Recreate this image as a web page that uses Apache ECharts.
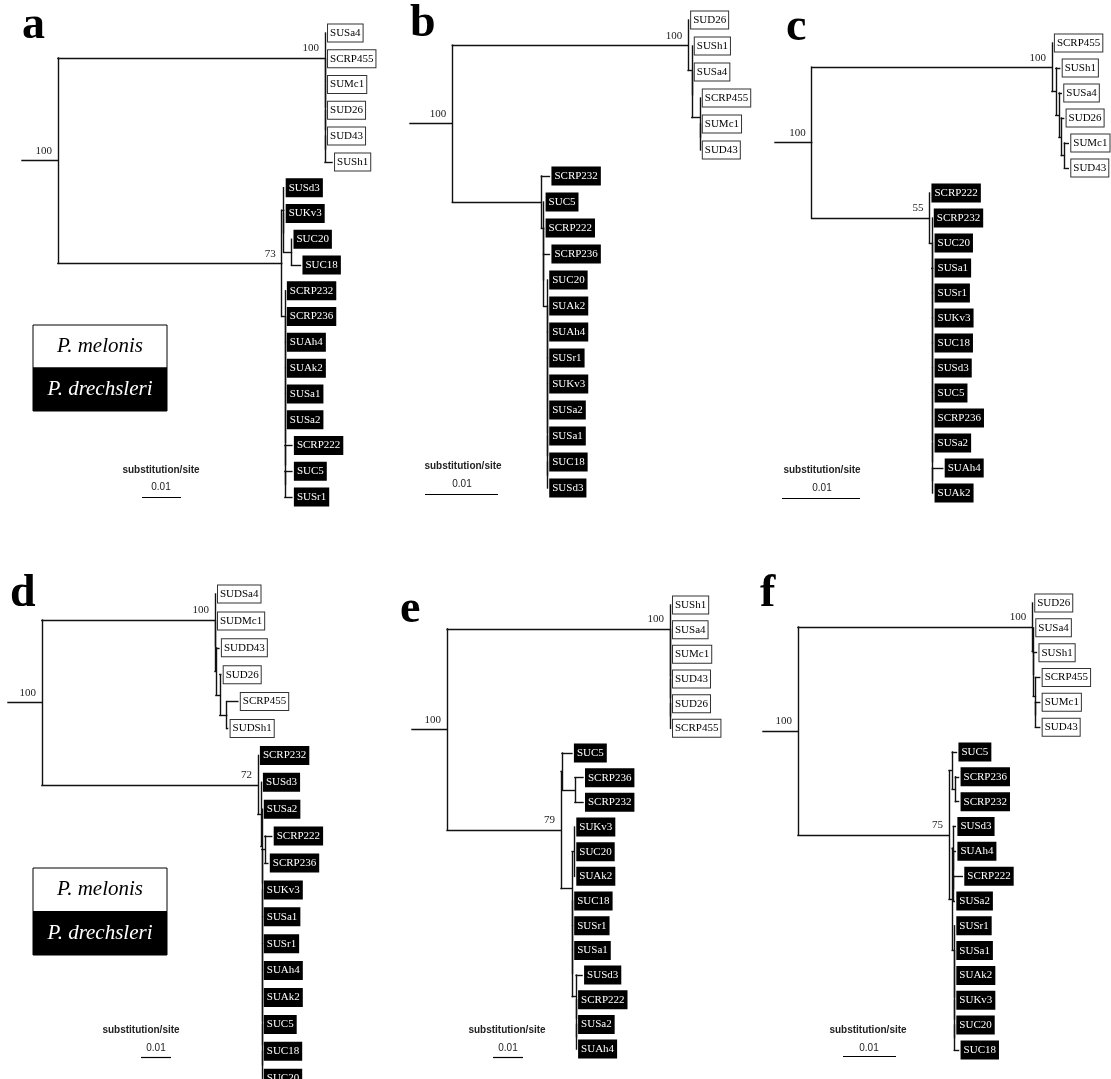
<!DOCTYPE html>
<html><head><meta charset="utf-8">
<script src="https://cdn.jsdelivr.net/npm/echarts@6/dist/echarts.min.js"></script>
<style>html,body{margin:0;padding:0;background:#fff}#c{width:1111px;height:1079px}</style>
</head><body><div id="c"></div>
<script>
// ---------- DATA (branch lengths in substitutions/site, Newick) ----------
const melonisA = "(SUSa4:0,(SCRP455:0,(SUMc1:0,(SUD26:0,(SUD43:0,SUSh1:0.0018):0):0):0):0)100:0.0685";
const drechsleriA = "((SUSd3:0,(SUKv3:0,(SUC20:0,SUC18:0.0023):0.002):0):0.0005,(SCRP232:0,(SCRP236:0,(SUAh4:0,(SUAk2:0,(SUSa1:0,(SUSa2:0,(SCRP222:0.0018,(SUC5:0.0018,SUSr1:0.0018):0):0):0):0):0):0):0):0.0008)73:0.0574";
const rootA = ["100", 0.0092];

const melonisB = "(SUD26:0,(SUSh1:0,(SUSa4:0,(SCRP455:0,(SUMc1:0,SUD43:0):0):0.0011):0):0.0005)100:0.0323";
const drechsleriB = "(SCRP232:0.0011,(SUC5:0,(SCRP222:0,(SCRP236:0.0008,(SUC20:0,(SUAk2:0,(SUAh4:0,(SUSr1:0,(SUKv3:0,(SUSa2:0,(SUSa1:0,(SUC18:0,SUSd3:0):0):0):0):0):0):0):0):0.0005):0):0):0.0003):0.0122";
const rootB = ["100", 0.0058];

const melonisC = "(SCRP455:0,(SUSh1:0.0005,(SUSa4:0.0003,(SUD26:0.0003,(SUMc1:0.0005,SUD43:0.0005):0.0004):0.0003):0.0004):0.0005)100:0.0308";
const drechsleriC = "(SCRP222:0,(SCRP232:0,(SUC20:0,(SUSa1:0,(SUSr1:0,(SUKv3:0,(SUC18:0,(SUSd3:0,(SUC5:0,(SCRP236:0,(SUSa2:0,(SUAh4:0.0013,SUAk2:0):0):0):0):0):0):0):0):0):0):0.0001):0.0003)55:0.0151";
const rootC = ["100", 0.0047];

const melonisD = "(SUDSa4:0,(SUDMc1:0,(SUDD43:0.001,(SUD26:0.0003,(SCRP455:0.0037,SUDSh1:0.0003):0.0023):0.0013):0.0003):0)100:0.0577";
const drechsleriD = "(SCRP232:0,(SUSd3:0,(SUSa2:0,((SCRP222:0.0023,SCRP236:0.001):0.001,(SUKv3:0,(SUSa1:0,(SUSr1:0,(SUAh4:0,(SUAk2:0,(SUC5:0,(SUC18:0,SUC20:0):0):0):0):0):0):0):0):0):0.0003):0.001)72:0.072";
const rootD = ["100", 0.0113];

const melonisE = "(SUSh1:0,(SUSa4:0,(SUMc1:0,(SUD43:0,(SUD26:0,SCRP455:0):0):0):0):0)100:0.0743";
const drechsleriE = "((SUC5:0.0033,(SCRP236:0.0027,SCRP232:0.0027):0.0043):0.0003,((SUKv3:0,SUC20:0,SUAk2:0):0.0007,(SUC18:0,(SUSr1:0,(SUSa1:0,(SUSd3:0.002,(SCRP222:0,(SUSa2:0,SUAh4:0):0):0):0.0013):0):0):0):0.0037)79:0.038";
const rootE = ["100", 0.0117];

const melonisF = "(SUD26:0,(SUSa4:0,(SUSh1:0.0006,(SCRP455:0.0008,(SUMc1:0.0008,SUD43:0.0008):0):0.0004):0):0.0002)100:0.0442";
const drechsleriF = "((SUC5:0.0008,(SCRP236:0.0006,SCRP232:0.0006):0.0006):0.0006,((SUSd3:0.0004,(SUAh4:0.0004,(SCRP222:0.0017,SUSa2:0.0002):0):0):0.0002,(SUSr1:0,(SUSa1:0,(SUAk2:0,(SUKv3:0,(SUC20:0,SUC18:0.0008):0):0):0):0):0.0004):0.0006)75:0.0285";
const rootF = ["100", 0.0066];

const melonisNames = ["SUSa4", "SCRP455", "SUMc1", "SUD26", "SUD43", "SUSh1", "SUDSa4", "SUDMc1", "SUDD43", "SUDSh1"];
const panelLetters = ["a", "b", "c", "d", "e", "f"];
const legendLabels = ["P. melonis", "P. drechsleri"];
const scaleBarLength = 0.01;
const scaleBarLabel = "0.01";
const scaleUnitLabel = "substitution/site";

// ---------- LAYOUT (pixels) ----------
const layouts = [
  {rootX: 22,  top: 33,  step: 25.78, px001: 39, barX: 142, barY: 497, subX: 161, subY: 470, numX: 161, numY: 487, letX: 22,  letY: 26},
  {rootX: 410, top: 20,  step: 26.0,  px001: 73, barX: 425, barY: 494, subX: 463, subY: 466, numX: 462, numY: 484, letX: 410, letY: 24},
  {rootX: 775, top: 43,  step: 25.0,  px001: 78, barX: 782, barY: 498, subX: 822, subY: 470, numX: 822, numY: 488, letX: 786, letY: 28},
  {rootX: 8,   top: 594, step: 26.9,  px001: 30, barX: 141, barY: 1057, subX: 141, subY: 1030, numX: 156, numY: 1048, letX: 10, letY: 594},
  {rootX: 412, top: 605, step: 24.67, px001: 30, barX: 493, barY: 1057, subX: 507, subY: 1030, numX: 508, numY: 1048, letX: 400, letY: 610},
  {rootX: 763, top: 603, step: 24.83, px001: 53, barX: 843, barY: 1056, subX: 868, subY: 1030, numX: 869, numY: 1048, letX: 760, letY: 594}
];
const legendBoxes = [{x: 33, y: 325, w: 134, h: 86}, {x: 33, y: 868, w: 134, h: 87}];

const trees = [
  [melonisA, drechsleriA, rootA], [melonisB, drechsleriB, rootB], [melonisC, drechsleriC, rootC],
  [melonisD, drechsleriD, rootD], [melonisE, drechsleriE, rootE], [melonisF, drechsleriF, rootF]
];

// ---------- Newick parser ----------
function parseNewick(s) {
  let i = 0;
  function node() {
    const n = {children: [], name: "", support: "", len: 0};
    if (s[i] === "(") {
      i++;
      n.children.push(node());
      while (s[i] === ",") { i++; n.children.push(node()); }
      i++; // ')'
    }
    let lab = "";
    while (i < s.length && ":,);".indexOf(s[i]) < 0) lab += s[i++];
    if (n.children.length) n.support = lab; else n.name = lab;
    if (s[i] === ":") {
      i++;
      let num = "";
      while (i < s.length && ",);".indexOf(s[i]) < 0) num += s[i++];
      n.len = parseFloat(num);
    }
    return n;
  }
  return node();
}

function buildTree(t) {
  const root = {children: [parseNewick(t[0]), parseNewick(t[1])], support: t[2][0], len: t[2][1], name: ""};
  let tip = 0;
  function lay(n, px) {
    n.x = px + n.len;
    if (!n.children.length) { n.y = tip++; return; }
    n.children.forEach(c => lay(c, n.x));
    n.y = (n.children[0].y + n.children[n.children.length - 1].y) / 2;
  }
  lay(root, 0);
  const segs = [], tips = [], sups = [];
  segs.push({coords: [[0, root.y], [root.x, root.y]]});
  function walk(n, parent) {
    if (parent && n.len > 0) segs.push({coords: [[parent.x, n.y], [n.x, n.y]]});
    if (n.children.length) {
      segs.push({coords: [[n.x, n.children[0].y], [n.x, n.children[n.children.length - 1].y]]});
      if (n.support) sups.push({value: [n.x, n.y], name: n.support});
      n.children.forEach(c => walk(c, n));
    } else {
      tips.push({value: [n.x, n.y], name: n.name});
    }
  }
  walk(root, null);
  return {segs, tips, sups};
}

const FONT = "Liberation Serif";
const grid = [], xAxis = [], yAxis = [], series = [], graphic = [];
trees.forEach((t, i) => {
  const L = layouts[i];
  const W = 360;
  const built = buildTree(t);
  grid.push({left: L.rootX, top: L.top - L.step, width: W, height: 20 * L.step, outerBoundsMode: "none"});
  xAxis.push({gridIndex: i, type: "value", min: 0, max: W / L.px001 * 0.01, show: false});
  yAxis.push({gridIndex: i, type: "value", min: -1, max: 19, inverse: true, show: false});
  series.push({
    type: "lines", coordinateSystem: "cartesian2d", xAxisIndex: i, yAxisIndex: i, clip: false,
    silent: true, animation: false,
    lineStyle: {color: "#111", width: 1.4, opacity: 1, cap: "square"},
    data: built.segs
  });
  series.push({
    type: "scatter", xAxisIndex: i, yAxisIndex: i, symbolSize: 0, clip: false, silent: true, animation: false,
    itemStyle: {opacity: 1},
    data: built.tips.map(d => {
      const mel = melonisNames.indexOf(d.name) >= 0;
      return {
        value: d.value, name: d.name,
        label: mel ? {color: "#000", backgroundColor: "#fff", borderColor: "#333", borderWidth: 1}
                   : {color: "#fff", backgroundColor: "#000", borderColor: "#000", borderWidth: 1}
      };
    }),
    label: {show: true, position: "right", distance: 3, formatter: "{b}", fontFamily: FONT, fontSize: 11,
            padding: [2, 2, 2, 2], lineHeight: 13, opacity: 1, textBorderWidth: 0}
  });
  series.push({
    type: "scatter", xAxisIndex: i, yAxisIndex: i, symbolSize: 0, clip: false, silent: true, animation: false,
    itemStyle: {opacity: 1},
    data: built.sups,
    label: {show: true, position: [-6, -4], align: "right", verticalAlign: "bottom", formatter: "{b}",
            fontFamily: FONT, fontSize: 11, color: "#222", opacity: 1}
  });
  const sx = (L.barX - L.rootX) / L.px001 * 0.01;
  const sy = (L.barY - L.top) / L.step;
  series.push({
    type: "lines", coordinateSystem: "cartesian2d", xAxisIndex: i, yAxisIndex: i, clip: false,
    silent: true, animation: false, lineStyle: {color: "#000", width: 1.2, opacity: 1},
    data: [{coords: [[sx, sy], [sx + scaleBarLength, sy]]}]
  });
  graphic.push({type: "text", x: L.subX, y: L.subY, style: {text: scaleUnitLabel, font: "bold 10px 'Liberation Sans'", fill: "#222", align: "center", verticalAlign: "middle"}});
  graphic.push({type: "text", x: L.numX, y: L.numY, style: {text: scaleBarLabel, font: "10px 'Liberation Sans'", fill: "#222", align: "center", verticalAlign: "middle"}});
  graphic.push({type: "text", x: L.letX, y: L.letY, style: {text: panelLetters[i], font: "bold 46px 'Liberation Serif'", fill: "#000", align: "left", verticalAlign: "middle"}});
});

legendBoxes.forEach(b => {
  graphic.push({type: "rect", shape: {x: b.x, y: b.y, width: b.w, height: b.h / 2}, style: {fill: "#fff", stroke: "#000", lineWidth: 1}});
  graphic.push({type: "rect", shape: {x: b.x, y: b.y + b.h / 2, width: b.w, height: b.h / 2}, style: {fill: "#000", stroke: "#000", lineWidth: 1}});
  graphic.push({type: "text", x: b.x + b.w / 2, y: b.y + b.h / 4, style: {text: legendLabels[0], font: "italic 21px 'Liberation Serif'", fill: "#000", align: "center", verticalAlign: "middle"}});
  graphic.push({type: "text", x: b.x + b.w / 2, y: b.y + 3 * b.h / 4, style: {text: legendLabels[1], font: "italic 21px 'Liberation Serif'", fill: "#fff", align: "center", verticalAlign: "middle"}});
});

const chart = echarts.init(document.getElementById("c"), null, {renderer: "canvas"});
chart.setOption({backgroundColor: "#fff", animation: false, grid, xAxis, yAxis, series, graphic});
</script></body></html>
